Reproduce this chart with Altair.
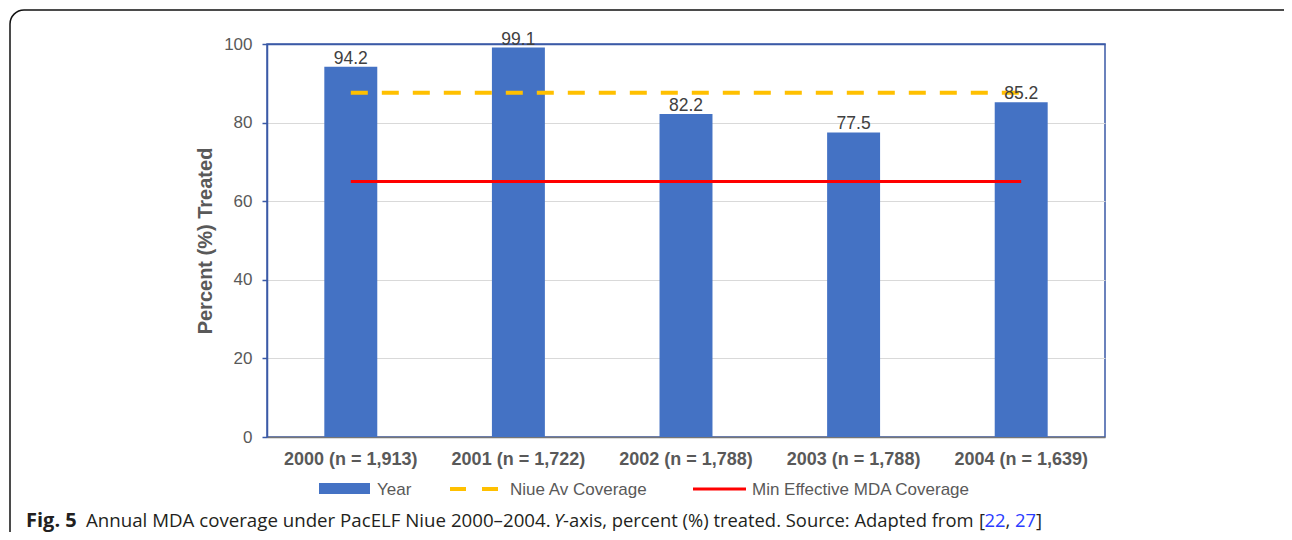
import altair as alt
import pandas as pd

# ---- data ----
years = ["2000 (n = 1,913)", "2001 (n = 1,722)", "2002 (n = 1,788)",
         "2003 (n = 1,788)", "2004 (n = 1,639)"]
coverage = [94.2, 99.1, 82.2, 77.5, 85.2]
niue_avg = [87.6, 87.6, 87.6, 87.6, 87.6]
min_effective = [65, 65, 65, 65, 65]
y_ticks = [0, 20, 40, 60, 80, 100]
legend_labels = ["Year", "Niue Av Coverage", "Min Effective MDA Coverage"]
caption_parts = ["Fig. 5", "Annual MDA coverage under PacELF Niue 2000\u20132004.",
                 "Y", "-axis, percent (%) treated. Source: Adapted from", "[",
                 "22", ",", "27", "]"]

df = pd.DataFrame({"year": years, "coverage": coverage,
                   "niue": niue_avg, "minimum": min_effective})

BLUE = "#4472C4"
GOLD = "#FFC000"
RED = "#FF0000"
AXBLUE = "#3B5AA6"
GRAY = "#595959"
TITLE = "Percent (%) Treated"

xenc = alt.X("year:N", sort=years,
             scale=alt.Scale(paddingInner=0.684, paddingOuter=0.342),
             axis=alt.Axis(title=None, labelAngle=0, ticks=False, tickSize=0,
                           labelFont="Liberation Sans", labelFontSize=18,
                           labelFontWeight="bold", labelColor=GRAY,
                           labelPadding=13, domainColor="#767676",
                           domainWidth=1.5, grid=False))

yscale = alt.Scale(domain=[0, 100], nice=False)
yaxis = alt.Axis(values=y_ticks, title=TITLE, titleFont="Liberation Sans",
                 titleFontSize=20, titleFontWeight="bold", titleColor=GRAY,
                 titlePadding=8, labelFont="Liberation Sans", labelFontSize=17,
                 labelColor=GRAY, labelPadding=10, tickColor=AXBLUE, tickSize=5,
                 tickWidth=1.5, domainColor=AXBLUE, domainWidth=1.5,
                 gridColor={"condition": {"test": "datum.value == 100", "value": AXBLUE},
                            "value": "#D9D9D9"},
                 gridWidth={"condition": {"test": "datum.value == 100", "value": 1.5},
                            "value": 1})

base = alt.Chart(df)

bars = base.mark_bar(color=BLUE).encode(
    x=xenc, y=alt.Y("coverage:Q", scale=yscale, axis=yaxis, title=TITLE))

values = base.mark_text(baseline="alphabetic", dy=-3, font="Liberation Sans",
                        fontSize=17.5, color="#404040").encode(
    x=xenc, y=alt.Y("coverage:Q", scale=yscale, title=TITLE),
    text=alt.Text("coverage:Q", format=".1f"))

niue_line = base.mark_line(color=GOLD, strokeWidth=4, strokeDash=[17, 14]).encode(
    x=xenc, y=alt.Y("niue:Q", scale=yscale, title=TITLE))

min_line = base.mark_line(color=RED, strokeWidth=3).encode(
    x=xenc, y=alt.Y("minimum:Q", scale=yscale, title=TITLE))

# ---- manual legend ----
one = pd.DataFrame({"k": [0]})
leg_rect = alt.Chart(one).mark_rect(color=BLUE).encode(
    x=alt.value(52), x2=alt.value(103), y=alt.value(439), y2=alt.value(450))
leg_dash = alt.Chart(one).mark_rule(color=GOLD, strokeWidth=4, strokeDash=[16, 16]).encode(
    x=alt.value(183), x2=alt.value(231), y=alt.value(445))
leg_red = alt.Chart(one).mark_rule(color=RED, strokeWidth=3).encode(
    x=alt.value(426), x2=alt.value(479), y=alt.value(445))
leg_texts = []
for lab, xp in zip(legend_labels, [110, 243, 485]):
    leg_texts.append(alt.Chart(one).mark_text(
        text=lab, align="left", baseline="alphabetic", font="Liberation Sans",
        fontSize=17, color=GRAY).encode(x=alt.value(xp), y=alt.value(451)))

# ---- caption ----
cap_x = [-241, -181, 287, 296, 712, 717.5, 738.5, 748, 769]
cap_size = [20, 18.7, 18.7, 18.4, 18.4, 18.4, 18.4, 18.4, 18.4]
cap_style = [
    dict(fontWeight="bold", color="#231F20"),
    dict(color="#231F20"),
    dict(fontStyle="italic", color="#231F20"),
    dict(color="#231F20"),
    dict(color="#231F20"),
    dict(color="#2A3CFF"),
    dict(color="#231F20"),
    dict(color="#2A3CFF"),
    dict(color="#231F20"),
]
caption = []
for txt, xp, fs, st in zip(caption_parts, cap_x, cap_size, cap_style):
    caption.append(alt.Chart(one).mark_text(
        text=txt, align="left", baseline="alphabetic", font="Open Sans",
        fontSize=fs, **st).encode(x=alt.value(xp), y=alt.value(483)))

border = alt.Chart(one).mark_rect(fillOpacity=0, stroke="#111111", strokeWidth=1.5,
                                  cornerRadius=14).encode(
    x=alt.value(-257), x2=alt.value(1040), y=alt.value(-34), y2=alt.value(560))

chart = alt.layer(border, bars, niue_line, min_line, values, leg_rect, leg_dash,
                  leg_red, *leg_texts, *caption).properties(
    width=838, height=393,
    background="white",
    autosize=alt.AutoSizeParams(type="none"),
    padding={"left": 259, "top": 36, "right": 179, "bottom": 95},
).configure_view(stroke=AXBLUE, strokeWidth=1.5)

chart.save("out.html", embed_options={"renderer": "svg", "actions": False})
